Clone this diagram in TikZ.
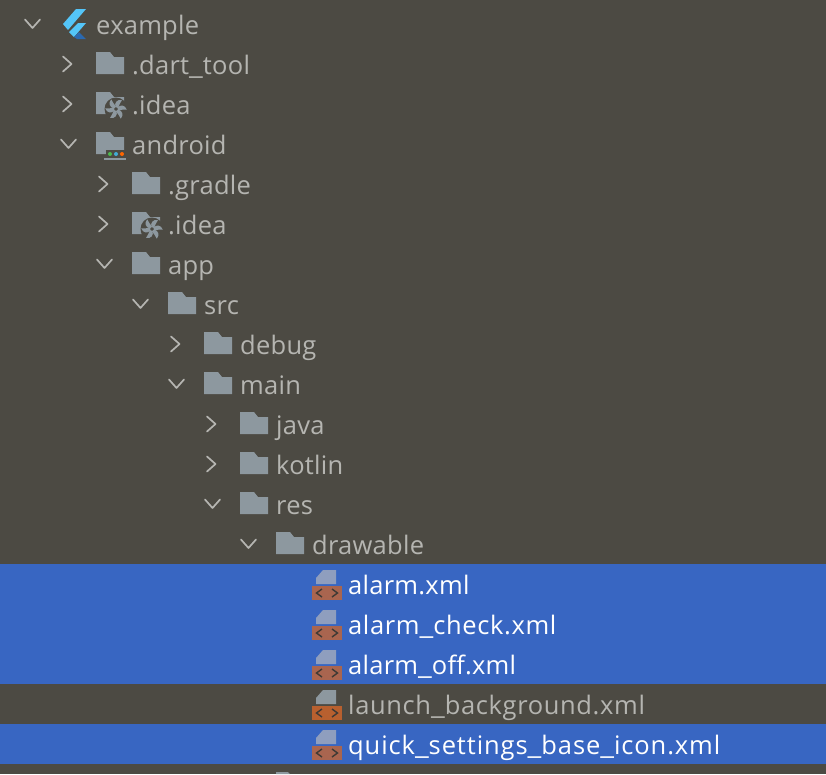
\documentclass[tikz,border=0pt]{standalone}
\usepackage{fontspec}
\setmainfont{Open Sans}[LetterSpace=1]
\newfontfamily\widefont{Open Sans}[LetterSpace=2.5]
\newfontfamily\widerfont{Open Sans}[LetterSpace=3.5]
\definecolor{panelbg}{HTML}{4C4A43}
\definecolor{selbg}{HTML}{3866C2}
\definecolor{foldergray}{HTML}{8D989F}
\definecolor{labelgray}{HTML}{B5B5B1}
\definecolor{xmlred}{HTML}{B8602F}
\definecolor{xmlsel}{HTML}{A9654F}
\definecolor{docsel}{HTML}{8F9EBE}
\definecolor{tagdark}{HTML}{3F3A35}
\definecolor{flutterlight}{HTML}{54C5F8}
\definecolor{flutterdark}{HTML}{2B69B0}

\tikzset{
  label/.style={anchor=base west, inner sep=0pt, font=\fontsize{25.5}{28}\selectfont, text=labelgray},
  sellabel/.style={label, text=white},
  chev/.style={draw=labelgray, line width=1.7pt, line cap=round, line join=round},
  pics/folderic/.style={code={
    \fill[foldergray] (0,-13) -- (14,-13) -- (18,-8) -- (28,-8) -- (28,9) -- (0,9) -- cycle;
  }},
  pics/ideaic/.style={code={
    \pic {folderic};
    \fill[panelbg] (20,4) circle (11.5);
    \foreach \a in {0,60,...,300}
      \fill[foldergray, shift={(20,4)}, rotate=\a] (-0.5,-2) .. controls (-2,-6) and (1,-10) .. (6,-9) .. controls (4,-6.5) and (3.5,-4) .. (2,-1) -- cycle;
  }},
  pics/androidic/.style={code={
    \pic {folderic};
    \fill[panelbg] (10,5) rectangle (32,16);
    \fill[foldergray] (8,13) rectangle (30,15);
    \fill[green!60!black!70!white] (14,9) circle (2);
    \fill[cyan!70!gray] (20,9) circle (2);
    \fill[orange!80!red] (26,9) circle (2);
  }},
  pics/xmlic/.style={code={
    \fill[#1] (24,-15) -- (11,-15) -- (4,-7) -- (4,-1) -- (24,-1) -- cycle;
  }},
}
\newcommand{\usc}{\scalebox{1.2}[1]{\_}}
\newcommand{\rchev}[2]{\draw[chev] (#1,#2-7.5) -- (#1+8.5,#2) -- (#1,#2+7.5);}
\newcommand{\dchev}[2]{\draw[chev] (#1,#2-4.5) -- (#1+7.5,#2+4) -- (#1+15,#2-4.5);}
\newcommand{\xmltag}[3]{
  \fill[#3] (#1,#2+1) rectangle (#1+30,#2+15);
  \draw[tagdark, line width=1.4pt] (#1+10,#2+4) -- (#1+4.5,#2+8) -- (#1+10,#2+12)
    (#1+20,#2+4) -- (#1+25.5,#2+8) -- (#1+20,#2+12);
}

\begin{document}
\begin{tikzpicture}[x=1pt, y=-1pt]
  \useasboundingbox (0,0) rectangle (826,774);
  \fill[panelbg] (0,0) rectangle (826,774);
  \fill[selbg] (0,564) rectangle (826,684);
  \fill[selbg] (0,724) rectangle (826,764);

  % flutter logo
  \fill[flutterlight] (63,24) -- (76,9) -- (86,9) -- (68,30) -- cycle;
  \fill[flutterlight] (69,32) -- (78,23) -- (86,23) -- (74,37) -- cycle;
  \fill[flutterdark] (74,37) -- (79,32) -- (86,39) -- (77,39) -- cycle;
  \node[label] (example) at (96,34) {example};

  \dchev{25}{24}
  \rchev{63}{64}
  \pic at (96,65) {folderic};
  \node[label] (darttool) at (132,74) {.dart\usc tool};
  \rchev{63}{104}
  \pic at (96,105) {ideaic};
  \node[label] (idea) at (132,114) {.idea};
  \dchev{61}{144}
  \pic at (96,145) {androidic};
  \node[label] (android) at (132,154) {android};

  \rchev{99}{184}
  \pic at (132,185) {folderic};
  \node[label] (gradle) at (168,194) {.gradle};
  \rchev{99}{224}
  \pic at (132,225) {ideaic};
  \node[label] (appidea) at (168,234) {.idea};
  \dchev{97}{264}
  \pic at (132,265) {folderic};
  \node[label] (app) at (168,274) {app};

  \dchev{133}{304}
  \pic at (168,305) {folderic};
  \node[label] (src) at (204,314) {src};
  \rchev{171}{344}
  \pic at (204,345) {folderic};
  \node[label] (debug) at (240,354) {debug};
  \dchev{169}{384}
  \pic at (204,385) {folderic};
  \node[label] (main) at (240,394) {main};

  \rchev{207}{424}
  \pic at (240,425) {folderic};
  \node[label] (java) at (276,434) {java};
  \rchev{207}{464}
  \pic at (240,465) {folderic};
  \node[label] (kotlin) at (276,474) {kotlin};
  \dchev{205}{504}
  \pic at (240,505) {folderic};
  \node[label] (res) at (276,514) {res};
  \dchev{241}{544}
  \pic at (276,545) {folderic};
  \node[label] (drawable) at (312,554) {drawable};

  \pic at (312,585) {xmlic=docsel};
  \xmltag{312}{585}{xmlsel}
  \node[sellabel] (alarm) at (348,594) {alarm.xml};
  \pic at (312,625) {xmlic=docsel};
  \xmltag{312}{625}{xmlsel}
  \node[sellabel] (alarmcheck) at (348,634) {\widefont alarm\usc check.xml};
  \pic at (312,665) {xmlic=docsel};
  \xmltag{312}{665}{xmlsel}
  \node[sellabel] (alarmoff) at (348,674) {alarm\usc off.xml};
  \pic at (312,705) {xmlic=foldergray};
  \xmltag{312}{705}{xmlred}
  \node[label] (launch) at (348,714) {\widefont launch\usc background.xml};
  \pic at (312,745) {xmlic=docsel};
  \xmltag{312}{745}{xmlsel}
  \node[sellabel] (quick) at (348,754) {\widerfont quick\usc settings\usc base\usc icon.xml};

  % clipped row below
  \fill[foldergray] (276,774) -- (276,772) -- (288,772) -- (290,774) -- cycle;
\end{tikzpicture}
\end{document}
